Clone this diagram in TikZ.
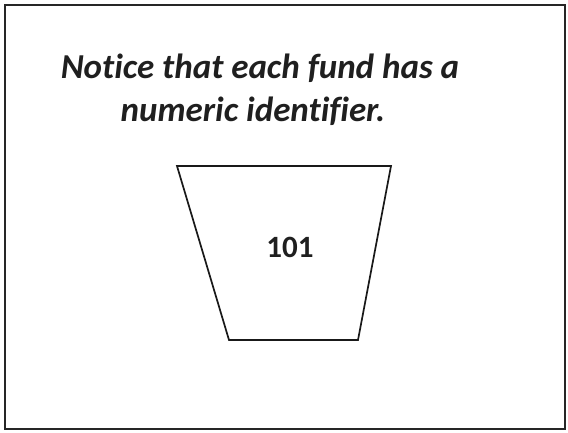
\documentclass[tikz,border=0pt]{standalone}
\usepackage{fontspec}
\setmainfont{Carlito}[RawFeature={-liga}]
\begin{document}
\begin{tikzpicture}[x=1pt,y=-1pt,
  frame/.style={draw=black!85,line width=1.6pt},
  fundshape/.style={draw=black!90,line width=1.7pt,line join=miter},
  title/.style={font=\fontsize{35}{42}\selectfont\bfseries\itshape,align=center,text=black!88},
  idlabel/.style={font=\fontsize{31}{34}\selectfont\bfseries,text=black!88}]
\useasboundingbox (0,0) rectangle (568,432);
\draw[frame] (5,5) rectangle (565,429);
\node[title,anchor=base] (t1) at (260,78) {Notice that each fund has a};
\node[title,anchor=base] (t2) at (253,121) {numeric identifier.};
\coordinate (tl) at (177,166);
\coordinate (tr) at (391,166);
\coordinate (br) at (358,340);
\coordinate (bl) at (229,340);
\draw[fundshape] (tl) -- (tr) -- (br) -- (bl) -- cycle;
\node[idlabel] (id) at (290,247) {101};
\end{tikzpicture}
\end{document}
